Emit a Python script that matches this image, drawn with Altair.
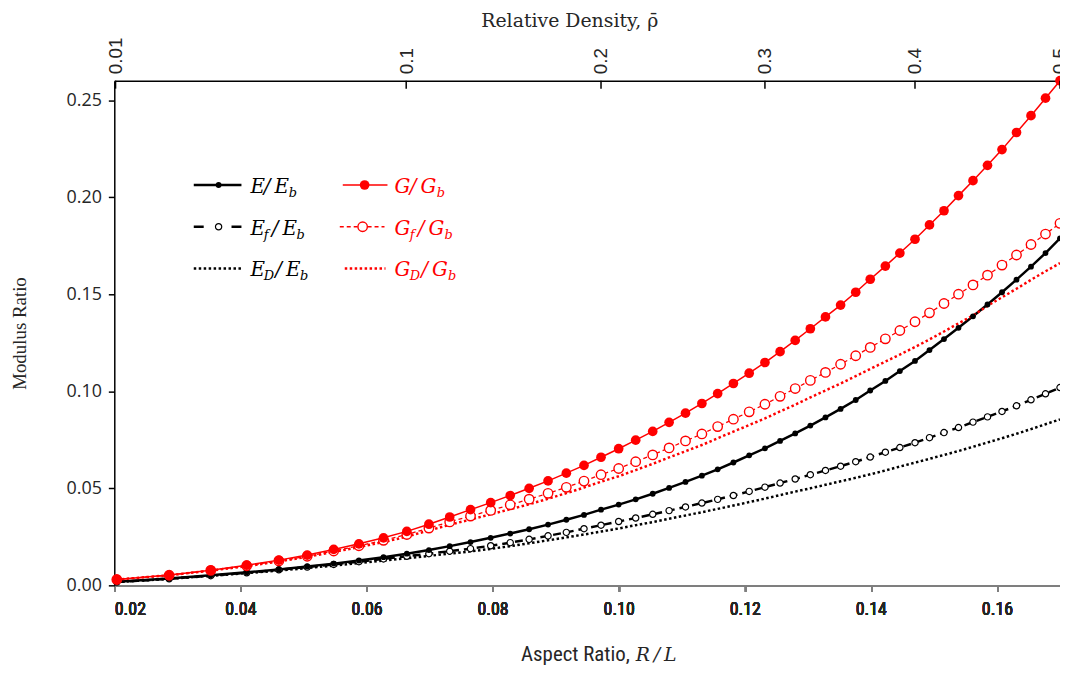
import altair as alt
import pandas as pd

# ---------------- data ----------------
rel_density = [0.01, 0.02, 0.03, 0.04, 0.05, 0.06, 0.07, 0.08, 0.09, 0.10,
               0.11, 0.12, 0.13, 0.14, 0.15, 0.16, 0.17, 0.18, 0.19, 0.20,
               0.21, 0.22, 0.23, 0.24, 0.25, 0.26, 0.27, 0.28, 0.29, 0.30,
               0.31, 0.32, 0.33, 0.34, 0.35, 0.36, 0.37, 0.38, 0.39, 0.40,
               0.41, 0.42, 0.43, 0.44, 0.45, 0.46, 0.47, 0.48, 0.49, 0.50]

aspect_ratio = [0.0204, 0.0287, 0.0353, 0.0410, 0.0461, 0.0506, 0.0548, 0.0588, 0.0627, 0.0664,
                0.0699, 0.0732, 0.0765, 0.0797, 0.0828, 0.0858, 0.0888, 0.0917, 0.0945, 0.0972,
                0.1000, 0.1027, 0.1054, 0.1080, 0.1106, 0.1132, 0.1157, 0.1182, 0.1207, 0.1232,
                0.1256, 0.1280, 0.1304, 0.1328, 0.1352, 0.1376, 0.1399, 0.1423, 0.1446, 0.1470,
                0.1493, 0.1516, 0.1539, 0.1562, 0.1585, 0.1608, 0.1631, 0.1654, 0.1677, 0.1700]

G_Gb = [0.0030, 0.0053, 0.0078, 0.0104, 0.0130, 0.0156, 0.0185, 0.0214, 0.0245, 0.0278,
        0.0315, 0.0352, 0.0390, 0.0426, 0.0463, 0.0500, 0.0538, 0.0578, 0.0618, 0.0660,
        0.0704, 0.0748, 0.0793, 0.0840, 0.0887, 0.0937, 0.0988, 0.1040, 0.1093, 0.1148,
        0.1204, 0.1262, 0.1322, 0.1383, 0.1444, 0.1510, 0.1577, 0.1645, 0.1712, 0.1783,
        0.1857, 0.1930, 0.2008, 0.2085, 0.2164, 0.2245, 0.2333, 0.2420, 0.2510, 0.2600]

Gf_Gb = [0.0030, 0.0052, 0.0077, 0.0101, 0.0126, 0.0150, 0.0177, 0.0204, 0.0232, 0.0262,
         0.0295, 0.0327, 0.0357, 0.0386, 0.0415, 0.0444, 0.0474, 0.0505, 0.0537, 0.0570,
         0.0602, 0.0637, 0.0672, 0.0708, 0.0744, 0.0780, 0.0818, 0.0856, 0.0894, 0.0933,
         0.0974, 0.1014, 0.1056, 0.1097, 0.1139, 0.1183, 0.1226, 0.1270, 0.1313, 0.1358,
         0.1404, 0.1452, 0.1500, 0.1548, 0.1598, 0.1650, 0.1702, 0.1756, 0.1810, 0.1865]

GD_Gb = [0.0030, 0.0052, 0.0076, 0.0099, 0.0123, 0.0147, 0.0172, 0.0197, 0.0223, 0.0251,
         0.0283, 0.0312, 0.0339, 0.0366, 0.0392, 0.0418, 0.0446, 0.0475, 0.0504, 0.0534,
         0.0562, 0.0594, 0.0626, 0.0659, 0.0691, 0.0723, 0.0758, 0.0792, 0.0826, 0.0860,
         0.0896, 0.0931, 0.0968, 0.1004, 0.1040, 0.1078, 0.1115, 0.1153, 0.1189, 0.1228,
         0.1267, 0.1308, 0.1350, 0.1390, 0.1440, 0.1484, 0.1528, 0.1574, 0.1618, 0.1660]

E_Eb = [0.0018, 0.0035, 0.0052, 0.0067, 0.0082, 0.0097, 0.0112, 0.0128, 0.0145, 0.0163,
        0.0182, 0.0202, 0.0223, 0.0245, 0.0267, 0.0289, 0.0313, 0.0338, 0.0363, 0.0390,
        0.0416, 0.0443, 0.0472, 0.0502, 0.0533, 0.0565, 0.0598, 0.0633, 0.0670, 0.0706,
        0.0744, 0.0783, 0.0823, 0.0865, 0.0909, 0.0955, 0.1004, 0.1053, 0.1104, 0.1156,
        0.1212, 0.1269, 0.1327, 0.1386, 0.1447, 0.1510, 0.1575, 0.1642, 0.1712, 0.1788]

Ef_Eb = [0.0017, 0.0034, 0.0050, 0.0065, 0.0080, 0.0094, 0.0108, 0.0122, 0.0136, 0.0150,
         0.0163, 0.0176, 0.0189, 0.0204, 0.0220, 0.0237, 0.0255, 0.0273, 0.0292, 0.0310,
         0.0329, 0.0347, 0.0366, 0.0385, 0.0404, 0.0424, 0.0443, 0.0463, 0.0484, 0.0506,
         0.0527, 0.0548, 0.0570, 0.0592, 0.0614, 0.0637, 0.0661, 0.0686, 0.0710, 0.0735,
         0.0761, 0.0787, 0.0813, 0.0841, 0.0868, 0.0896, 0.0925, 0.0956, 0.0987, 0.1019]

ED_Eb = [0.0017, 0.0033, 0.0049, 0.0063, 0.0076, 0.0089, 0.0102, 0.0115, 0.0128, 0.0140,
         0.0152, 0.0163, 0.0175, 0.0188, 0.0202, 0.0217, 0.0232, 0.0247, 0.0262, 0.0277,
         0.0293, 0.0310, 0.0326, 0.0343, 0.0360, 0.0377, 0.0394, 0.0411, 0.0429, 0.0447,
         0.0465, 0.0483, 0.0500, 0.0518, 0.0536, 0.0554, 0.0572, 0.0592, 0.0612, 0.0632,
         0.0652, 0.0672, 0.0692, 0.0714, 0.0736, 0.0758, 0.0781, 0.0805, 0.0830, 0.0855]

x_tick_values = [0.02, 0.04, 0.06, 0.08, 0.10, 0.12, 0.14, 0.16]
y_tick_values = [0.00, 0.05, 0.10, 0.15, 0.20, 0.25]
density_tick_labels = ["0.01", "0.1", "0.2", "0.3", "0.4", "0.5"]
density_tick_positions = [0.0202, 0.0663, 0.0972, 0.1232, 0.1470, 0.1700]

# ---------------- styling ----------------
W, H = 952, 508
RED = "#ff0000"
BLACK = "#000000"
TXT = "#262626"
LEGEND_FONT = "DejaVu Serif"
NARROW = "Liberation Sans Narrow, Roboto Condensed, Liberation Sans"

xscale = alt.Scale(domain=[0.02, 0.17], nice=False, zero=False)
yscale = alt.Scale(domain=[0.0, 0.26], nice=False, zero=False)

x_axis = alt.Axis(orient="bottom", values=x_tick_values, format=".2f", title=None,
                  labelFont=NARROW, labelFontSize=18, labelFontWeight="normal",
                  labelColor=TXT, labelPadding=9,
                  domainColor="#7f7f7f", domainWidth=1.5, tickColor="#7f7f7f",
                  tickSize=6, tickWidth=1.5, grid=False)
y_axis = alt.Axis(orient="left", values=y_tick_values, format=".2f",
                  title="Modulus Ratio", titleFont="Liberation Serif", titleFontSize=19,
                  titleFontWeight="normal", titleColor=TXT, titleX=-95, titleY=254,
                  titleAngle=-90, titleAlign="center", titleBaseline="middle",
                  labelFont="Open Sans", labelFontSize=18, labelColor=TXT, labelPadding=7,
                  domainColor=BLACK, domainWidth=1.5, tickColor=BLACK, tickSize=6,
                  tickWidth=1.5, grid=False)

x_enc = alt.X("rl:Q", scale=xscale, axis=x_axis)
y_enc = alt.Y("v:Q", scale=yscale, axis=y_axis)


def sdf(vals):
    return pd.DataFrame({"rl": aspect_ratio, "rho": rel_density, "v": vals})


def line(vals, color, width, dash=None):
    kw = dict(color=color, strokeWidth=width, strokeCap="butt")
    if dash is not None:
        kw["strokeDash"] = dash
    return alt.Chart(sdf(vals)).mark_line(**kw).encode(x=x_enc, y=y_enc)


def points(vals, color, size, hollow=False, sw=1.3):
    if hollow:
        m = alt.Chart(sdf(vals)).mark_point(shape="circle", filled=True, fill="white",
                                            stroke=color, strokeWidth=sw, size=size, opacity=1)
    else:
        m = alt.Chart(sdf(vals)).mark_point(shape="circle", filled=True, color=color,
                                            size=size, opacity=1)
    return m.encode(x=x_enc, y=y_enc)


layers = [
    line(ED_Eb, BLACK, 2.5, [2.5, 2.5]),
    line(Ef_Eb, BLACK, 2.5, [8, 5]),
    line(E_Eb, BLACK, 2.5),
    line(GD_Gb, RED, 2.5, [2.5, 2.5]),
    line(Gf_Gb, RED, 1.3, [4, 3]),
    line(G_Gb, RED, 1.5),
    points(Ef_Eb, BLACK, 40, hollow=True, sw=1.2),
    points(E_Eb, BLACK, 34),
    points(Gf_Gb, RED, 90, hollow=True, sw=1.4),
    points(G_Gb, RED, 95),
]

# ---------------- top axis (relative density) ----------------
label_expr = "".join(
    f"abs(datum.value - {p}) < 0.0005 ? '{l}' : "
    for p, l in zip(density_tick_positions, density_tick_labels)
) + "''"
top_df = pd.DataFrame({"rl": density_tick_positions, "lab": density_tick_labels})
top_axis = alt.Axis(orient="top", values=density_tick_positions, labelExpr=label_expr,
                    labelAngle=-90, labelAlign="left", labelBaseline="middle",
                    ticks=False, labelPadding=7, labelFont="Liberation Sans",
                    labelFontSize=19, labelColor=TXT, domainColor=BLACK,
                    domainWidth=1.5, grid=False,
                    title="Relative Density, ρ̄", titleFont="DejaVu Serif",
                    titleFontSize=19, titleFontWeight="normal", titleColor=TXT,
                    titleX=458, titleY=-61, titleAlign="center", titleBaseline="middle")
layers.append(
    alt.Chart(top_df).mark_rule(color=BLACK, strokeWidth=1.5).encode(
        x=alt.X("rl:Q", scale=xscale, axis=top_axis), y=alt.value(0), y2=alt.value(8))
)

# ---------------- bottom axis title ----------------
dummy = pd.DataFrame({"a": [0]})
layers.append(alt.Chart(dummy).mark_text(
    align="right", baseline="middle", fontSize=21, color=TXT, font=NARROW).encode(
    x=alt.value(519), y=alt.value(578), text=alt.value("Aspect Ratio,")))
layers.append(alt.Chart(dummy).mark_text(
    align="left", baseline="middle", fontSize=19, fontStyle="italic", color=TXT,
    font="DejaVu Serif").encode(
    x=alt.value(525), y=alt.value(578), text=alt.value("R\u2009/\u2009L")))

# ---------------- custom legend ----------------
row_y = [105, 147, 189]
bx1, bx2, bmx = 80, 128, 105
rx1, rx2, rmx = 230, 275, 252


def seg(x1, x2, y, color, width, dash=None):
    kw = dict(color=color, strokeWidth=width, strokeCap="butt")
    if dash is not None:
        kw["strokeDash"] = dash
    d = pd.DataFrame({"x1": [x1], "x2": [x2], "y": [y]})
    return alt.Chart(d).mark_rule(**kw).encode(
        x=alt.X("x1:Q", scale=None), x2="x2:Q", y=alt.Y("y:Q", scale=None))


def lpt(x, y, color, size, hollow=False, sw=1.3):
    d = pd.DataFrame({"x": [x], "y": [y]})
    if hollow:
        m = alt.Chart(d).mark_point(shape="circle", filled=True, fill="white", stroke=color,
                                    strokeWidth=sw, size=size, opacity=1)
    else:
        m = alt.Chart(d).mark_point(shape="circle", filled=True, color=color, size=size, opacity=1)
    return m.encode(x=alt.X("x:Q", scale=None), y=alt.Y("y:Q", scale=None))


layers += [
    seg(bx1, bx2, row_y[0], BLACK, 2.5), lpt(bmx, row_y[0], BLACK, 34),
    seg(bx1, bx2, row_y[1], BLACK, 2.5, [10, 28]), lpt(bmx, row_y[1], BLACK, 40, True, 1.2),
    seg(bx1, bx2, row_y[2], BLACK, 2.5, [2.5, 2.5]),
    seg(rx1, rx2, row_y[0], RED, 1.5), lpt(rmx, row_y[0], RED, 95),
    seg(rx1 - 3, rx2 - 3, row_y[1], RED, 1.3, [4, 3]), lpt(rmx - 2, row_y[1], RED, 90, True, 1.4),
    seg(rx1 + 2, rx2 - 2, row_y[2], RED, 2.5, [2.5, 2.5]),
]

# label pieces: (main letter, numerator subscript, denominator letter) per row
legend_black = [("E", "", "E"), ("E", "f", "E"), ("E", "D", "E")]
legend_red = [("G", "", "G"), ("G", "f", "G"), ("G", "D", "G")]
MAIN_FS, SUB_FS = 20, 13
main_w = {"E": 13.5, "G": 15.5}
sub_w = {"": 0.0, "f": 8.0, "D": 11.5}
slash_w = {"E": 25.0, "G": 27.0}

rows = []
for x0, items, col in [(137, legend_black, BLACK), (282, legend_red, RED)]:
    for (m, s, d), y in zip(items, row_y):
        x = x0
        rows.append({"t": m, "x": x, "y": y + 2, "fs": MAIN_FS, "c": col})
        x += main_w[m]
        if s:
            rows.append({"t": s, "x": x, "y": y + 8, "fs": SUB_FS, "c": col})
            x += sub_w[s]
        rows.append({"t": "\u2009/\u2009" + d, "x": x, "y": y + 2, "fs": MAIN_FS, "c": col})
        x += slash_w[d]
        rows.append({"t": "b", "x": x, "y": y + 8, "fs": SUB_FS, "c": col})
legend_text = pd.DataFrame(rows)
layers.append(
    alt.Chart(legend_text).mark_text(align="left", baseline="middle", font=LEGEND_FONT,
                                     fontStyle="italic").encode(
        x=alt.X("x:Q", scale=None), y=alt.Y("y:Q", scale=None), text="t:N",
        size=alt.Size("fs:Q", scale=None), color=alt.Color("c:N", scale=None))
)

chart = alt.layer(*layers).properties(
    width=W, height=H,
    autosize=alt.AutoSizeParams(type="none"),
    padding={"left": 107, "top": 71, "right": 0, "bottom": 80},
).configure_view(stroke=None)

chart.save("out.html", embed_options={"renderer": "svg", "actions": False})
